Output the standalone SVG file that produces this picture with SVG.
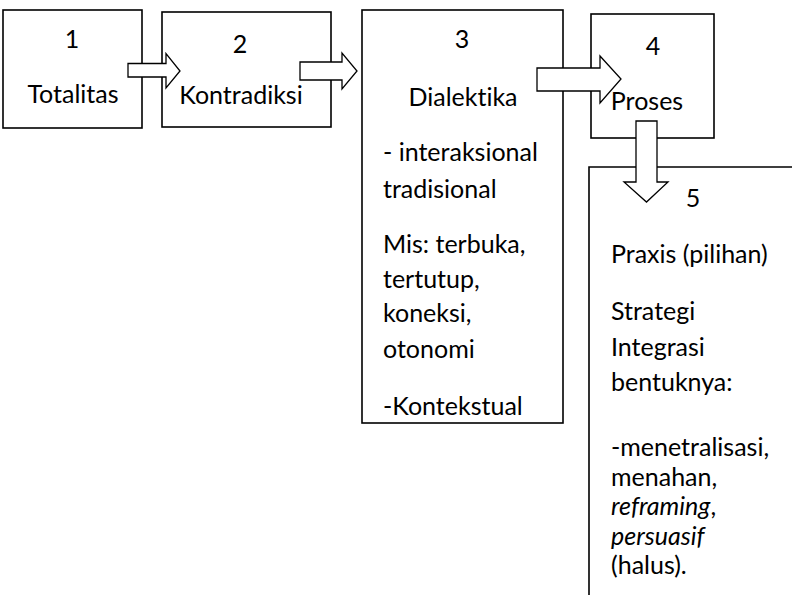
<svg xmlns="http://www.w3.org/2000/svg" width="792" height="595" viewBox="0 0 792 595">
<style>
.box{fill:#fff;stroke:#000;stroke-width:1.6}
.open{fill:none;stroke:#000;stroke-width:1.6}
.arr{fill:#fff;stroke:#000;stroke-width:1.3;stroke-linejoin:miter}
text{font-family:Lato,"Open Sans","Liberation Sans",sans-serif;font-size:25px;fill:#000;font-variant-ligatures:none;font-feature-settings:"liga" 0,"clig" 0}
.c{text-anchor:middle}
.i{font-style:italic}
</style>
<rect width="792" height="595" fill="#fff"/>
<g id="node1">
<rect class="box" x="3" y="10" width="139" height="118"/>
<text class="c" x="72" y="48">1</text>
<text class="c" x="73" y="103">Totalitas</text>
</g>
<g id="node2">
<rect class="box" x="162" y="12" width="169" height="115"/>
<text class="c" x="240" y="53">2</text>
<text class="c" x="241" y="104">Kontradiksi</text>
</g>
<g id="node3">
<rect class="box" x="362" y="10" width="201" height="413"/>
<text class="c" x="462" y="48">3</text>
<text class="c" x="463" y="106">Dialektika</text>
<text x="383" y="161">- interaksional</text>
<text x="383" y="198">tradisional</text>
<text x="383" y="253">Mis: terbuka,</text>
<text x="383" y="288">tertutup,</text>
<text x="383" y="322">koneksi,</text>
<text x="383" y="358">otonomi</text>
<text x="383" y="415">-Kontekstual</text>
</g>
<g id="node4">
<rect class="box" x="591" y="14" width="123" height="124"/>
<text class="c" x="653" y="55">4</text>
<text class="c" x="647" y="110">Proses</text>
</g>
<g id="node5">
<path class="open" d="M589,595 V167 H792"/>
<text class="c" x="693" y="207">5</text>
<text x="611" y="263">Praxis (pilihan)</text>
<text x="611" y="320">Strategi</text>
<text x="611" y="356">Integrasi</text>
<text x="611" y="391">bentuknya:</text>
<text x="611" y="456">-menetralisasi,</text>
<text x="611" y="486">menahan,</text>
<text x="611" y="515"><tspan class="i">reframing</tspan>,</text>
<text x="611" y="545"><tspan class="i">persuasif</tspan></text>
<text x="611" y="574">(halus).</text>
</g>
<g id="connectors">
<path class="arr" d="M128,63.5 H166 V53.5 L180,71 L166,88 V77 H128 Z"/>
<path class="arr" d="M300,62 H342 V53 L357,71 L342,89 V80 H300 Z"/>
<path class="arr" d="M537,68 H600 V56 L621,79 L600,103 V91 H537 Z"/>
<path class="arr" d="M636,121 V182 H624 L646.5,202 L668,182 H657 V121 Z"/>
</g>
</svg>
